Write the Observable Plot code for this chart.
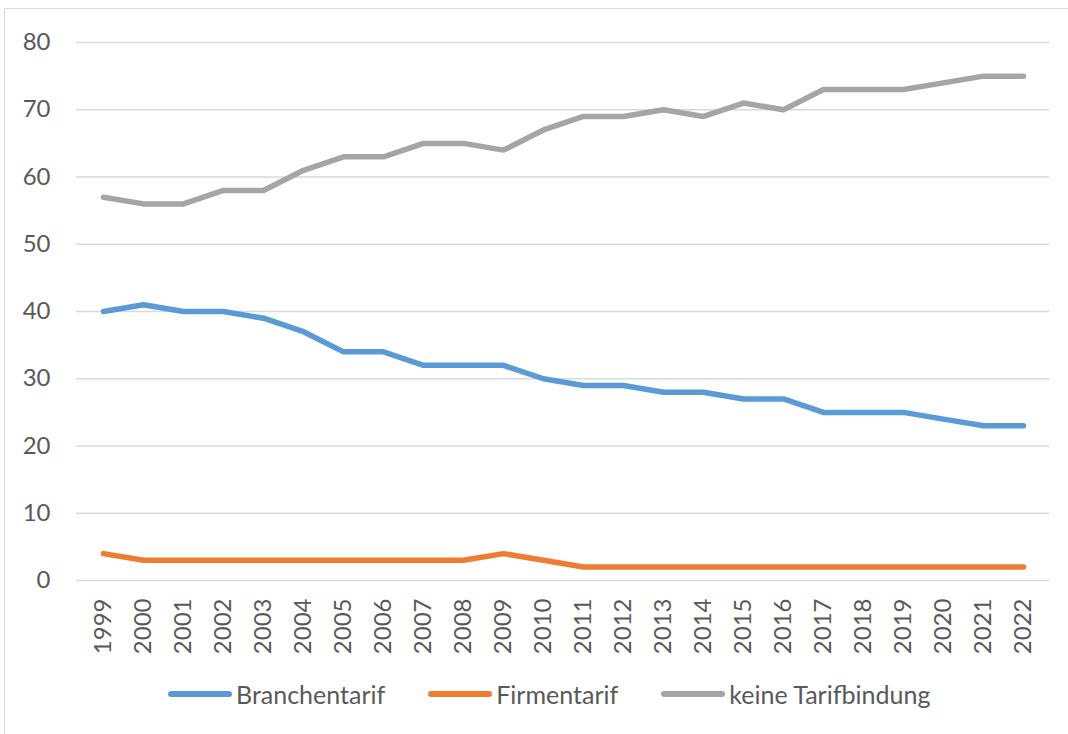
<!DOCTYPE html>
<html>
<head>
<meta charset="utf-8">
<script src="https://cdn.jsdelivr.net/npm/d3@7"></script>
<script src="https://cdn.jsdelivr.net/npm/@observablehq/plot@0.6"></script>
<style>
  html, body { margin: 0; padding: 0; background: #fff; }
  body { width: 1068px; height: 734px; position: relative; overflow: hidden; font-family: Lato, "Open Sans", sans-serif; }
  #frame { position: absolute; left: 4px; top: 8px; right: -10px; bottom: -10px; border-top: 1.5px solid #d9d9d9; border-left: 1.5px solid #d9d9d9; }
  #chart { position: absolute; left: 0; top: 0; }
  #legend { position: absolute; left: 168px; top: 679px; display: flex; align-items: center; font-size: 25px; color: #595959; }
  .item { display: flex; align-items: center; margin-right: 43px; }
  .sw { width: 64px; height: 6px; border-radius: 3px; margin-right: 4px; }
</style>
</head>
<body>
<div id="frame"></div>
<div id="chart"></div>
<div id="legend"></div>
<script>
const years = ["1999","2000","2001","2002","2003","2004","2005","2006","2007","2008","2009","2010","2011","2012","2013","2014","2015","2016","2017","2018","2019","2020","2021","2022"];
const branchentarif = [40,41,40,40,39,37,34,34,32,32,32,30,29,29,28,28,27,27,25,25,25,24,23,23];
const firmentarif = [4,3,3,3,3,3,3,3,3,3,4,3,2,2,2,2,2,2,2,2,2,2,2,2];
const keineTarifbindung = [57,56,56,58,58,61,63,63,65,65,64,67,69,69,70,69,71,70,73,73,73,74,75,75];
const seriesNames = ["Branchentarif","Firmentarif","keine Tarifbindung"];
const seriesColors = ["#5B9BD5","#ED7D31","#A5A5A5"];
const yTicks = [0,10,20,30,40,50,60,70,80];

const seriesValues = [branchentarif, firmentarif, keineTarifbindung];
const data = [];
seriesNames.forEach((s, i) => years.forEach((y, j) => data.push({year: y, value: seriesValues[i][j], series: s})));

const chart = Plot.plot({
  width: 1068,
  height: 670,
  marginLeft: 76,
  marginRight: 19,
  marginTop: 42,
  marginBottom: 90,
  style: {fontFamily: "Lato, sans-serif", fontSize: "24px", color: "#595959", background: "transparent", overflow: "visible"},
  x: {type: "point", domain: years, padding: 0.5, label: null},
  y: {domain: [0, 80], label: null},
  color: {domain: seriesNames, range: seriesColors},
  marks: [
    Plot.gridY(yTicks, {stroke: "#d9d9d9", strokeOpacity: 1, strokeWidth: 1.5}),
    Plot.axisY(yTicks, {tickSize: 0, tickPadding: 26, fontSize: 24, fill: "#595959", label: null}),
    Plot.axisX({tickSize: 0, tickPadding: 18, tickRotate: -90, fontSize: 24, fill: "#595959", label: null}),
    Plot.line(data, {x: "year", y: "value", z: "series", stroke: "series", strokeWidth: 5.5, strokeLinecap: "round", strokeLinejoin: "round"})
  ]
});
document.getElementById("chart").appendChild(chart);

const legend = document.getElementById("legend");
seriesNames.forEach((s, i) => {
  const it = document.createElement("div");
  it.className = "item";
  const sw = document.createElement("div");
  sw.className = "sw";
  sw.style.background = seriesColors[i];
  const t = document.createElement("span");
  t.textContent = s;
  it.appendChild(sw); it.appendChild(t);
  legend.appendChild(it);
});
</script>
</body>
</html>
